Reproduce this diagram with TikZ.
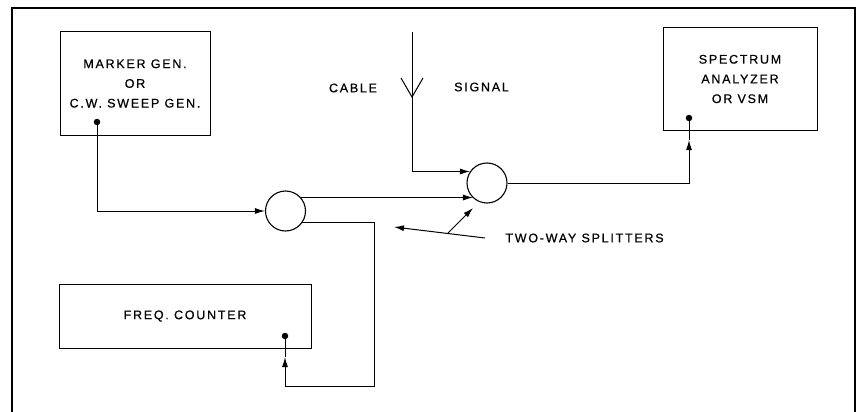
\documentclass[tikz,border=0pt]{standalone}
\usepackage{fontspec}
\setmainfont{Liberation Sans}[LetterSpace=14, FakeBold=0.6]
\usetikzlibrary{arrows.meta}
\begin{document}
\begin{tikzpicture}[x=1pt,y=-1pt, line width=1pt,
  box/.style={draw, rectangle, inner sep=0pt, align=center,
    font=\fontsize{12.5}{19.7}\selectfont},
  lbl/.style={inner sep=0pt, font=\fontsize{12.5}{15}\selectfont},
  dotnode/.style={circle, fill, inner sep=0pt, minimum size=6.5pt},
  splitter/.style={draw, circle, minimum size=40pt, inner sep=0pt, line width=1.1pt},
  arr/.style={-{Latex[length=10pt,width=6pt]}}]
\useasboundingbox (0,0) rectangle (860,412);
% frame
\draw[line width=1.8pt] (12,412) -- (12,8) -- (855,8) -- (855,412);
% boxes
\node[box, minimum width=150pt, minimum height=103pt] (mg) at (135,83.5)
  {MARKER GEN.\\OR\\C.W. SWEEP GEN.};
\node[box, minimum width=154pt, minimum height=102pt] (sa) at (740,79)
  {SPECTRUM\\ANALYZER\\OR VSM};
\node[box, minimum width=252pt, minimum height=64pt] (fc) at (185,316)
  {FREQ. COUNTER};
% dots
\node[dotnode] (d1) at (97,122) {};
\node[dotnode] (d2) at (689,118) {};
\node[dotnode] (d3) at (285,336) {};
% splitters
\node[splitter] (sp1) at (285.5,211) {};
\node[splitter] (sp2) at (487,183) {};
% labels
\node[lbl] (cab) at (353,88) {CABLE};
\node[lbl] (sig) at (481.5,87) {SIGNAL};
\node[lbl] (tw) at (584.5,238) {TWO-WAY SPLITTERS};
% coordinates
\coordinate (cabtop) at (412,32);
\coordinate (cabv) at (412,97);
\coordinate (a2) at (689,140);
\coordinate (c3) at (374,386);
\coordinate (a3) at (285,357);
\coordinate (lA) at (485,238);
\coordinate (lB) at (394,227);
\coordinate (lJ) at (448,233);
\coordinate (lT) at (473,208);
% connectors
\draw[arr] (d1.center) |- (sp1.west);
\draw[arr] (sp1.41.7) -- (sp1.41.7 -| sp2.227.3);
\draw[arr] (cabtop) |- (sp2.146.6);
\draw ([shift={(-11,-19)}]cabv) -- (cabv) -- ([shift={(11,-19)}]cabv);
\draw[arr] (sp2.east) -| (a2);
\draw (a2) -- (d2.center);
\draw[arr] (sp1.325.6) -| (c3) -| (a3);
\draw (a3) -- (d3.center);
\draw[arr] (lA) -- (lB);
\draw[arr] (lJ) -- (lT);
\end{tikzpicture}
\end{document}
